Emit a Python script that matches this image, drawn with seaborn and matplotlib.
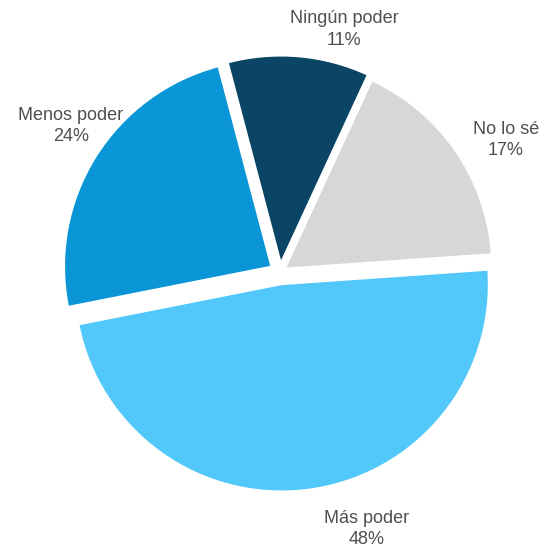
import matplotlib
matplotlib.use("Agg")
import matplotlib.pyplot as plt
import seaborn as sns

# Survey answers, listed counter-clockwise from the right-hand side of the pie
categories = ["No lo sé", "Ningún poder", "Menos poder", "Más poder"]
percentages = [17, 11, 24, 48]

# Styling
slice_colors = ["#d7d7d7", "#0b4566", "#0a95d6", "#52c8fa"]
explode = [0.03, 0.045, 0.05, 0.06]
label_xy = [(1.092, 0.638), (0.309, 1.172), (-1.010, 0.705), (0.420, -1.242)]

sns.set_theme(style="white")
plt.rcParams["font.family"] = ["Liberation Sans", "DejaVu Sans"]

palette = sns.color_palette(slice_colors)

fig = plt.figure(figsize=(5.45, 5.51), dpi=100)
ax = fig.add_axes([0, 0, 1, 1])

ax.pie(
    percentages,
    colors=palette,
    startangle=4,
    counterclock=True,
    explode=explode,
    radius=1.0,
    wedgeprops=dict(edgecolor="white", linewidth=1.2),
)

for name, pct, (x, y) in zip(categories, percentages, label_xy):
    ax.text(x, y, f"{name}\n{pct}%", ha="center", va="center",
            fontsize=13, color="#4f4f4f", linespacing=1.35)

ax.set_xlim(-280 / 207, (545 - 280) / 207)
ax.set_ylim(-(551 - 272) / 207, 272 / 207)
ax.set_aspect("auto")
ax.axis("off")

fig.savefig("out.png", dpi=100, facecolor="white")
